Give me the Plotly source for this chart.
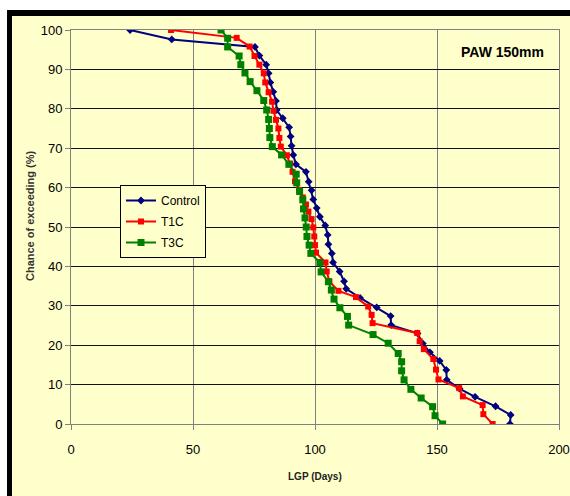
import plotly.graph_objects as go

# ---------------- data ----------------
control_x = [24.2, 41.3, 75.4, 77.2, 80.0, 81.0, 81.7, 82.9, 84.0, 84.3, 86.8, 89.4, 90.0, 90.4,
             91.1, 92.2, 96.3, 97.4, 98.6, 99.3, 100.7, 102.0, 104.2, 105.2, 105.5, 106.9, 107.4,
             110.1, 111.9, 112.8, 118.5, 125.3, 131.0, 131.2, 142.0, 144.2, 147.1, 151.1, 153.8,
             154.0, 159.2, 165.6, 174.0, 180.2, 179.9]
control_y = [100.0, 97.6, 95.7, 93.5, 91.2, 89.0, 86.7, 84.3, 82.0, 79.7, 77.6, 75.3, 73.0, 70.6,
             68.3, 65.9, 64.0, 61.5, 59.3, 57.0, 54.8, 52.6, 50.4, 48.0, 45.6, 43.3, 41.0,
             38.7, 36.2, 34.3, 32.0, 29.6, 27.4, 25.1, 23.0, 20.4, 18.2, 16.0, 13.7,
             11.2, 9.0, 6.9, 4.5, 2.3, 0.0]

t1c_x = [41.0, 67.9, 73.2, 75.2, 77.2, 79.0, 79.6, 81.0, 82.4, 83.0, 84.0, 85.0, 85.4, 86.0,
         88.5, 89.8, 90.8, 91.8, 93.5, 95.0, 96.3, 97.3, 98.6, 99.3, 99.7, 100.0, 100.4,
         104.3, 104.8, 105.9, 109.6, 116.8, 121.8, 123.2, 123.6, 141.9, 142.9, 144.6, 148.5,
         149.6, 150.6, 159.1, 160.6, 168.7, 169.0, 172.8]
t1c_y = [100.0, 98.0, 95.8, 93.4, 91.2, 89.0, 86.7, 84.2, 81.8, 79.5, 77.2, 75.0, 72.6, 70.4,
         68.2, 66.1, 64.0, 61.6, 59.4, 57.5, 55.7, 53.9, 52.0, 49.9, 47.6, 45.4, 43.5,
         41.0, 38.7, 36.2, 33.8, 32.2, 29.8, 27.7, 25.6, 23.1, 21.0, 19.0, 16.5,
         13.8, 11.3, 9.1, 7.0, 4.8, 2.5, 0.0]

t3c_x = [61.5, 64.2, 64.2, 68.9, 69.6, 71.3, 73.4, 76.2, 79.0, 80.2, 81.0, 81.3, 81.5, 82.5,
         86.3, 89.3, 92.3, 92.5, 93.7, 95.0, 95.3, 95.9, 96.4, 96.7, 97.6, 98.3, 102.0,
         102.5, 105.5, 106.7, 107.8, 110.2, 113.3, 113.8, 123.8, 130.0, 134.1, 135.5, 135.5,
         136.5, 139.3, 143.5, 148.2, 149.2, 152.3]
t3c_y = [100.0, 97.9, 95.7, 93.4, 91.2, 89.1, 86.9, 84.6, 82.1, 79.7, 77.3, 75.0, 72.7, 70.4,
         68.3, 65.9, 63.4, 61.2, 59.0, 56.9, 54.6, 52.3, 50.0, 47.6, 45.4, 43.3, 41.0,
         38.6, 36.1, 34.0, 31.7, 29.5, 27.3, 25.1, 22.7, 20.5, 17.9, 15.8, 13.5,
         11.2, 8.8, 6.6, 4.4, 2.1, 0.0]

x_ticks = [0, 50, 100, 150, 200]
y_ticks = [0, 10, 20, 30, 40, 50, 60, 70, 80, 90, 100]

# ---------------- figure ----------------
W, H = 570, 496
L, R, T, B = 71, 11, 30, 72
PW, PH = W - L - R, H - T - B


def px(x):
    return (x - L) / PW


def py(y):
    return (H - B - y) / PH


FONT = "Liberation Sans, Arial, sans-serif"
BG = "#FFFFCC"

fig = go.Figure()
fig.add_trace(go.Scatter(x=control_x, y=control_y, name="Control", mode="lines+markers",
                         line=dict(color="#000080", width=2),
                         marker=dict(symbol="diamond", size=6, color="#000080"),
                         legendgroup="a"))
fig.add_trace(go.Scatter(x=t1c_x, y=t1c_y, name="T1C", mode="lines+markers",
                         line=dict(color="#FF0000", width=2),
                         marker=dict(symbol="square", size=6, color="#FF0000"),
                         legendgroup="b"))
fig.add_trace(go.Scatter(x=t3c_x, y=t3c_y, name="T3C", mode="lines+markers",
                         line=dict(color="#008000", width=2),
                         marker=dict(symbol="square", size=7, color="#008000"),
                         legendgroup="c"))

shapes = [
    # white outer strips
    dict(type="rect", xref="paper", yref="paper", x0=-0.3, x1=1.2, y0=py(10), y1=1.3,
         fillcolor="white", line=dict(width=0), layer="above"),
    dict(type="rect", xref="paper", yref="paper", x0=-0.3, x1=px(7), y0=-0.3, y1=1.3,
         fillcolor="white", line=dict(width=0), layer="above"),
    # black frame
    dict(type="rect", xref="paper", yref="paper", x0=px(7), x1=1.2, y0=py(16), y1=py(10),
         fillcolor="black", line=dict(width=0), layer="above"),
    dict(type="rect", xref="paper", yref="paper", x0=px(7), x1=px(12), y0=-0.3, y1=py(10),
         fillcolor="black", line=dict(width=0), layer="above"),
]

annotations = [
    dict(text="<b>PAW 150mm</b>", xref="paper", yref="paper", x=px(502), y=py(52),
         xanchor="center", yanchor="middle", showarrow=False,
         font=dict(family=FONT, size=14, color="black")),
    dict(text="<b>LGP (Days)</b>", xref="paper", yref="paper", x=px(315), y=py(476),
         xanchor="center", yanchor="middle", showarrow=False,
         font=dict(family=FONT, size=10, color="#222222")),
    dict(text="<b>Chance of exceeding (%)</b>", xref="paper", yref="paper", x=px(30), y=py(216),
         xanchor="center", yanchor="middle", showarrow=False, textangle=-90,
         font=dict(family=FONT, size=11, color="#333333")),
]

fig.update_layout(
    width=W, height=H,
    margin=dict(l=L, r=R, t=T, b=B, pad=0, autoexpand=False),
    paper_bgcolor=BG, plot_bgcolor=BG,
    font=dict(family=FONT, size=13, color="black"),
    shapes=shapes, annotations=annotations,
    showlegend=True,
    legend=dict(x=px(120), y=py(185), xanchor="left", yanchor="top",
                bgcolor=BG, bordercolor="black", borderwidth=1,
                font=dict(family=FONT, size=12, color="black"),
                traceorder="grouped", tracegroupgap=2, itemwidth=30),
    xaxis=dict(range=[0, 200], tickvals=x_ticks, ticktext=[str(v) for v in x_ticks],
               showgrid=True, gridcolor="#808080", gridwidth=1,
               showline=True, linecolor="#808080", linewidth=1, mirror=True,
               ticks="outside", ticklen=5, tickcolor="#808080",
               ticklabelstandoff=8, zeroline=False, automargin=False,
               tickfont=dict(family=FONT, size=13, color="black")),
    yaxis=dict(range=[0, 100], tickvals=y_ticks, ticktext=[str(v) for v in y_ticks],
               showgrid=True, gridcolor="#111111", gridwidth=1,
               showline=True, linecolor="#808080", linewidth=1, mirror=True,
               ticks="outside", ticklen=5, tickcolor="#808080", zeroline=False,
               automargin=False,
               tickfont=dict(family=FONT, size=13, color="black")),
)

fig.write_html("out.html", config={"displayModeBar": False},
               post_script="document.body.style.margin='0';document.body.style.overflow='hidden';")
